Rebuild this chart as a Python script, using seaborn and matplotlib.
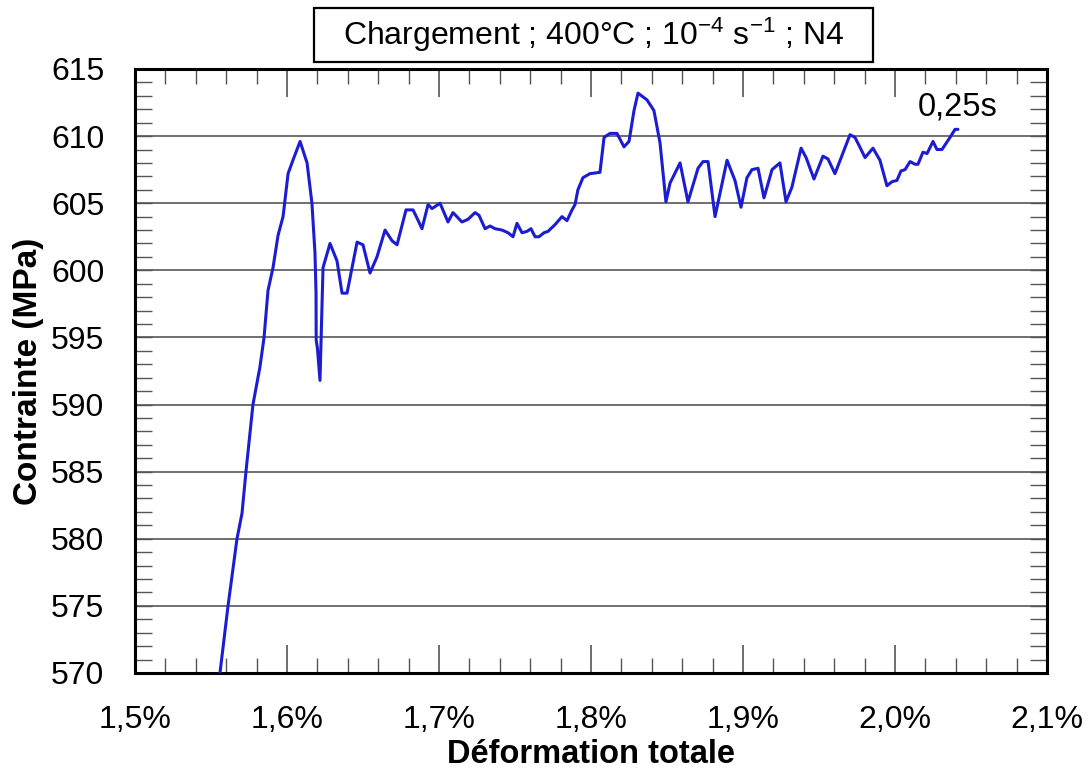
import matplotlib
matplotlib.use("Agg")
import matplotlib.pyplot as plt
from matplotlib.patches import Rectangle
from matplotlib.ticker import MultipleLocator, FuncFormatter
import seaborn as sns
import pandas as pd

# Total strain (%) and stress (MPa) during loading at 400 °C
strain_pct = [
    1.5559, 1.5612, 1.5671, 1.5704, 1.5730, 1.5776, 1.5822, 1.5849, 1.5875, 1.5908,
    1.5941, 1.5974, 1.6007, 1.6039, 1.6086, 1.6132, 1.6164, 1.6184, 1.6191, 1.6192,
    1.6200, 1.6217, 1.6237, 1.6283, 1.6329, 1.6362, 1.6395, 1.6428, 1.6461, 1.6500,
    1.6546, 1.6592, 1.6645, 1.6691, 1.6724, 1.6783, 1.6829, 1.6855, 1.6888, 1.6928,
    1.6954, 1.7007, 1.7059, 1.7092, 1.7151, 1.7191, 1.7237, 1.7263, 1.7303, 1.7336,
    1.7368, 1.7414, 1.7454, 1.7487, 1.7513, 1.7546, 1.7579, 1.7605, 1.7632, 1.7658,
    1.7691, 1.7717, 1.7763, 1.7809, 1.7842, 1.7875, 1.7895, 1.7914, 1.7947, 1.7993,
    1.8059, 1.8086, 1.8125, 1.8171, 1.8217, 1.8250, 1.8283, 1.8309, 1.8368, 1.8414,
    1.8454, 1.8493, 1.8520, 1.8586, 1.8638, 1.8704, 1.8737, 1.8770, 1.8816, 1.8895,
    1.8947, 1.8987, 1.9026, 1.9059, 1.9099, 1.9138, 1.9191, 1.9243, 1.9283, 1.9322,
    1.9382, 1.9415, 1.9467, 1.9526, 1.9559, 1.9605, 1.9704, 1.9737, 1.9803, 1.9855,
    1.9901, 1.9947, 1.9980, 2.0013, 2.0039, 2.0066, 2.0099, 2.0132, 2.0151, 2.0184,
    2.0211, 2.0250, 2.0276, 2.0309, 2.0362, 2.0395, 2.0414,
]
stress_mpa = [
    570.0, 575.0, 580.0, 581.9, 585.0, 590.0, 592.8, 595.0, 598.5, 600.2,
    602.6, 604.0, 607.2, 608.2, 609.6, 608.0, 605.0, 601.3, 598.3, 594.8,
    594.2, 591.8, 600.2, 602.0, 600.7, 598.3, 598.3, 600.2, 602.1, 601.9,
    599.8, 601.0, 603.0, 602.2, 601.9, 604.5, 604.5, 603.9, 603.1, 604.9,
    604.6, 605.0, 603.6, 604.3, 603.6, 603.8, 604.3, 604.1, 603.1, 603.3,
    603.1, 603.0, 602.8, 602.5, 603.5, 602.8, 602.9, 603.1, 602.5, 602.5,
    602.8, 602.9, 603.4, 604.0, 603.7, 604.5, 604.9, 606.0, 606.9, 607.2,
    607.3, 609.9, 610.2, 610.2, 609.2, 609.6, 611.9, 613.2, 612.7, 611.9,
    609.5, 605.1, 606.5, 608.0, 605.1, 607.6, 608.1, 608.1, 604.0, 608.2,
    606.7, 604.7, 606.9, 607.5, 607.6, 605.4, 607.5, 608.0, 605.1, 606.2,
    609.1, 608.4, 606.8, 608.5, 608.3, 607.2, 610.1, 609.9, 608.4, 609.1,
    608.2, 606.3, 606.6, 606.7, 607.4, 607.5, 608.1, 607.9, 607.9, 608.8,
    608.7, 609.6, 609.0, 609.0, 609.9, 610.5, 610.5,
]

end_label = "0,25s"
title_text = "Chargement ; 400°C ; 10$^{-4}$ s$^{-1}$ ; N4"
x_label = "Déformation totale"
y_label = "Contrainte (MPa)"

sns.set_theme(style="white")
plt.rcParams["font.family"] = ["Liberation Sans", "DejaVu Sans"]
plt.rcParams["mathtext.fontset"] = "custom"
plt.rcParams["mathtext.rm"] = "Liberation Sans"
plt.rcParams["mathtext.it"] = "Liberation Sans:italic"
plt.rcParams["mathtext.bf"] = "Liberation Sans:bold"
plt.rcParams["text.color"] = "black"
plt.rcParams["axes.labelcolor"] = "black"

df = pd.DataFrame({"strain": strain_pct, "stress": stress_mpa})

fig = plt.figure(figsize=(10.87, 7.74), dpi=100)
ax = fig.add_axes([0.1242, 0.1305, 0.8390, 0.7804])

sns.lineplot(data=df, x="strain", y="stress", sort=False, estimator=None,
             color="#1c1cd2", linewidth=2.2, ax=ax, zorder=3)

ax.set_xlim(1.5, 2.1)
ax.set_ylim(570, 615)

ax.xaxis.set_major_locator(MultipleLocator(0.1))
ax.xaxis.set_minor_locator(MultipleLocator(0.02))
ax.yaxis.set_major_locator(MultipleLocator(5))
ax.yaxis.set_minor_locator(MultipleLocator(1))
ax.xaxis.set_major_formatter(FuncFormatter(lambda v, _: f"{v:.1f}".replace(".", ",") + "%"))
ax.yaxis.set_major_formatter(FuncFormatter(lambda v, _: f"{v:.0f}"))

ax.grid(axis="y", which="major", color="#707070", linewidth=1.4, zorder=1)
ax.grid(axis="x", visible=False)

ax.tick_params(axis="both", which="both", direction="in", colors="#555555",
               labelcolor="black", labelsize=23)
ax.tick_params(axis="x", which="major", length=20, width=1.2, top=True, bottom=True, pad=23)
ax.tick_params(axis="x", which="minor", length=11, width=1.0, top=True, bottom=True)
ax.tick_params(axis="y", which="major", length=12, width=1.0, left=True, right=True, pad=22)
ax.tick_params(axis="y", which="minor", length=12, width=1.0, left=True, right=True)

for side in ax.spines.values():
    side.set_visible(True)
    side.set_color("black")
    side.set_linewidth(2.2)

ax.set_xlabel(x_label, fontsize=23.5, fontweight="bold", labelpad=3)
ax.set_ylabel(y_label, fontsize=24, fontweight="bold", labelpad=5)

# Boxed heading above the plotting area
fig.add_artist(Rectangle((0.2889, 0.9199), 0.5143, 0.0698, transform=fig.transFigure,
                         facecolor="white", edgecolor="black", linewidth=1.6))
fig.text(0.5460, 0.9545, title_text, ha="center", va="center", fontsize=23)

ax.annotate(end_label, xy=(strain_pct[-1], stress_mpa[-1]), xytext=(0, 10),
            textcoords="offset points", ha="center", va="baseline", fontsize=23.5)

fig.savefig("out.png", dpi=100)
